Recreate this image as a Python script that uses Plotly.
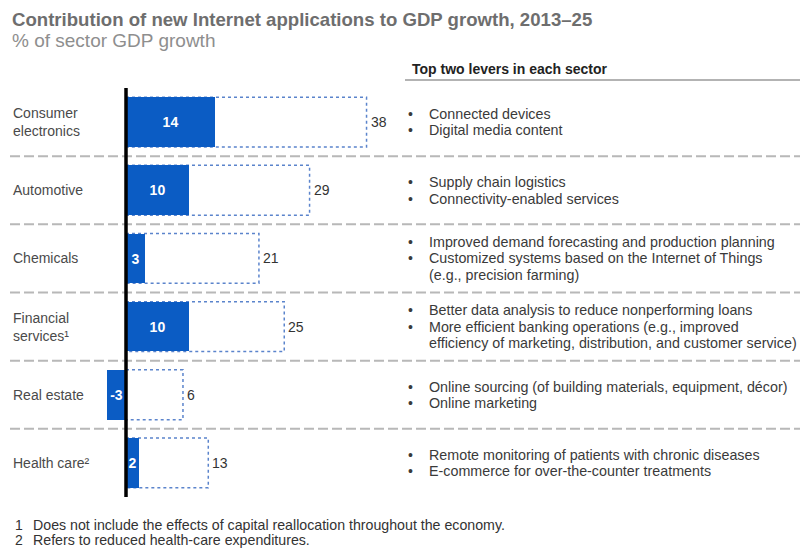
import plotly.graph_objects as go

# ---------------- data ----------------
title_text = "Contribution of new Internet applications to GDP growth, 2013–25"
subtitle_text = "% of sector GDP growth"
header_text = "Top two levers in each sector"

sectors = ["Consumer<br>electronics", "Automotive", "Chemicals",
           "Financial<br>services¹", "Real estate", "Health care²"]
direct = [14, 10, 3, 10, -3, 2]      # blue (solid) part
total = [38, 29, 21, 25, 6, 13]      # total contribution

levers = [
    ["Connected devices", "Digital media content"],
    ["Supply chain logistics", "Connectivity-enabled services"],
    ["Improved demand forecasting and production planning",
     "Customized systems based on the Internet of Things\n(e.g., precision farming)"],
    ["Better data analysis to reduce nonperforming loans",
     "More efficient banking operations (e.g., improved\nefficiency of marketing, distribution, and customer service)"],
    ["Online sourcing (of building materials, equipment, décor)", "Online marketing"],
    ["Remote monitoring of patients with chronic diseases",
     "E-commerce for over-the-counter treatments"],
]

footnote_marks = ["1", "2"]
footnote_texts = ["Does not include the effects of capital reallocation throughout the economy.",
                  "Refers to reduced health-care expenditures."]

# ---------------- layout helpers ----------------
W, H = 800, 556
T, B = 88, 59
ZERO_PX = 126
PX_PER_UNIT = 6.33
FONT = "Liberation Sans, Arial, sans-serif"
BLUE = "#0B5CC4"


def py(ypx):
    return (H - B - ypx) / (H - T - B)


def px(xpx):
    return xpx / W


pos = list(range(len(sectors)))
# remaining contribution stacked after the solid part
outline_end = [max(d, 0) + (t - d) for d, t in zip(direct, total)]

fig = go.Figure()
fig.add_trace(go.Bar(
    y=pos, x=direct, orientation="h", width=0.73,
    marker=dict(color=BLUE, line=dict(width=0)),
    text=[str(v) for v in direct], texttemplate="<b>%{text}</b>",
    textposition="inside", insidetextanchor="middle", textangle=0,
    constraintext="none",
    textfont=dict(family=FONT, size=14, color="white"),
    hoverinfo="skip", showlegend=False,
))

shapes = []
annotations = []

# dashed outlines for totals
for p, e, t in zip(pos, outline_end, total):
    shapes.append(dict(type="rect", xref="x", yref="y", x0=0, x1=e,
                       y0=p - 0.365, y1=p + 0.365, layer="below",
                       fillcolor="white",
                       line=dict(color="#5B84CC", width=1.5, dash="dot")))
    annotations.append(dict(xref="x", yref="y", x=e, y=p, xanchor="left",
                            yanchor="middle", xshift=2, showarrow=False,
                            text=str(t),
                            font=dict(family=FONT, size=14, color="#333333")))

# row separators
for p in pos[:-1]:
    shapes.append(dict(type="line", xref="paper", yref="y", x0=px(10), x1=1,
                       y0=p + 0.5, y1=p + 0.5, layer="below",
                       line=dict(color="#B8B8B8", width=2, dash="10px,4px")))

# zero axis line
shapes.append(dict(type="line", xref="x", yref="paper", x0=0, x1=0, y0=0, y1=1,
                   layer="above", line=dict(color="black", width=3.5)))

# header underline
shapes.append(dict(type="line", xref="paper", yref="paper", x0=px(405), x1=1,
                   y0=py(80), y1=py(80), line=dict(color="#9A9A9A", width=1.5)))

# sector labels
for p, s in zip(pos, sectors):
    annotations.append(dict(xref="paper", yref="y", x=px(11), y=p, xanchor="left",
                            yanchor="middle", align="left", showarrow=False, text=s,
                            font=dict(family=FONT, size=14, color="#4A4A4A")))

# lever texts
LINE_H = 16.5
for p, items in zip(pos, levers):
    lines = []
    for item in items:
        for j, ln in enumerate(item.split("\n")):
            lines.append((j == 0, ln))
    n = len(lines)
    for k, (has_bullet, ln) in enumerate(lines):
        shift = ((n - 1) / 2 - k) * LINE_H
        if has_bullet:
            annotations.append(dict(xref="paper", yref="y", x=px(406), y=p,
                                    yshift=shift, xanchor="left", yanchor="middle",
                                    showarrow=False, text="•",
                                    font=dict(family=FONT, size=14, color="#3A3A3A")))
        annotations.append(dict(xref="paper", yref="y", x=px(427), y=p,
                                yshift=shift, xanchor="left", yanchor="middle",
                                showarrow=False, text=ln,
                                font=dict(family=FONT, size=14.3, color="#3A3A3A")))

# header
annotations.append(dict(xref="paper", yref="paper", x=px(410), y=py(69),
                        xanchor="left", yanchor="middle", showarrow=False,
                        text="<b>" + header_text + "</b>",
                        font=dict(family=FONT, size=14, color="#222222")))

# title and subtitle
annotations.append(dict(xref="paper", yref="paper", x=px(10), y=py(20),
                        xanchor="left", yanchor="middle", showarrow=False,
                        text="<b>" + title_text + "</b>",
                        font=dict(family=FONT, size=18.6, color="#6E6E6E")))
annotations.append(dict(xref="paper", yref="paper", x=px(10), y=py(41),
                        xanchor="left", yanchor="middle", showarrow=False,
                        text=subtitle_text,
                        font=dict(family=FONT, size=19, color="#8E8E8E")))

# footnotes
for k, (m, t) in enumerate(zip(footnote_marks, footnote_texts)):
    yy = py(525 + 15 * k)
    annotations.append(dict(xref="paper", yref="paper", x=px(13), y=yy,
                            xanchor="left", yanchor="middle", showarrow=False, text=m,
                            font=dict(family=FONT, size=14, color="#333333")))
    annotations.append(dict(xref="paper", yref="paper", x=px(31), y=yy,
                            xanchor="left", yanchor="middle", showarrow=False, text=t,
                            font=dict(family=FONT, size=14.2, color="#333333")))

fig.update_layout(
    width=W, height=H,
    margin=dict(l=0, r=0, t=T, b=B),
    paper_bgcolor="white", plot_bgcolor="white",
    xaxis=dict(visible=False, range=[-ZERO_PX / PX_PER_UNIT, (W - ZERO_PX) / PX_PER_UNIT],
               fixedrange=True),
    yaxis=dict(visible=False, range=[len(sectors) - 0.5, -0.5], fixedrange=True),
    shapes=shapes, annotations=annotations,
    showlegend=False, bargap=0,
)

fig.write_html("out.html", config={"displayModeBar": False})
